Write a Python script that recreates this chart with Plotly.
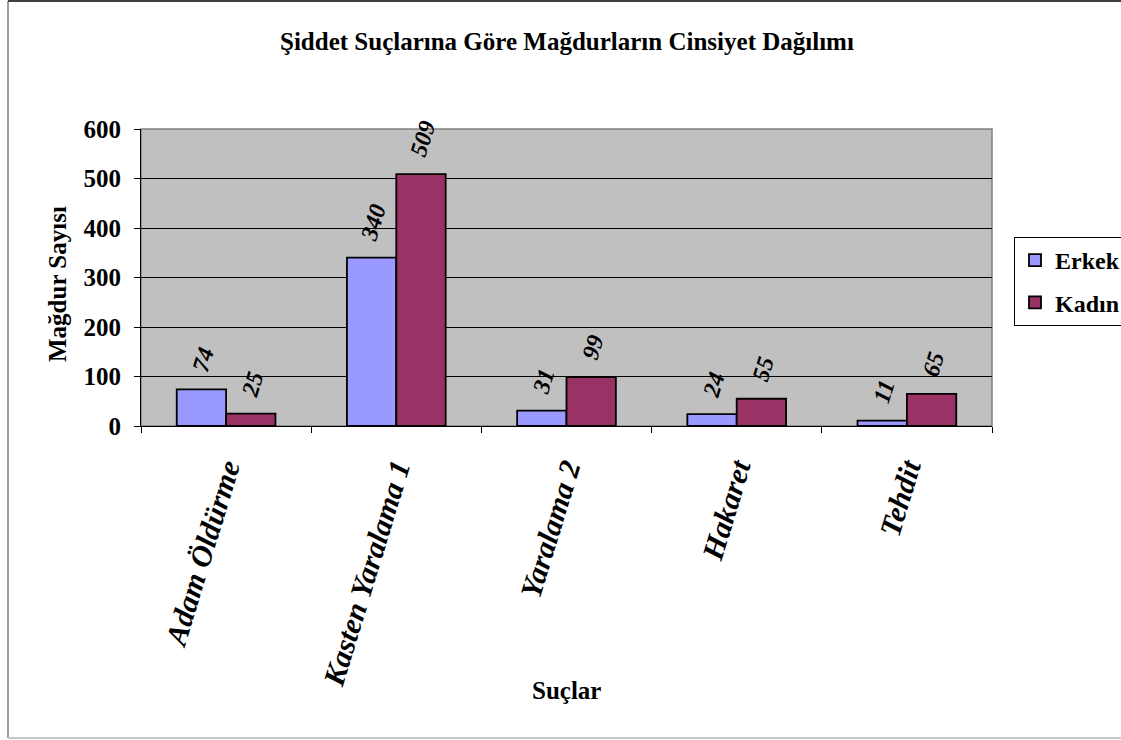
import plotly.graph_objects as go

categories = ["Adam Öldürme", "Kasten Yaralama 1", "Yaralama 2", "Hakaret", "Tehdit"]
erkek = [74, 340, 31, 24, 11]
kadin = [25, 509, 99, 55, 65]

W, H = 1121, 740
L, R, T, B = 141, 129, 129, 314
pw, ph = W - L - R, H - T - B

def px_x(x):
    return (x - L) / pw

def px_y(y):
    return (H - B - y) / ph

FONT = "Liberation Serif"
LABEL_ANGLE = -73
PAD = "\u00a0\u00a0"  # lifts the rotated value labels a little off the bar tops

fig = go.Figure()
for name, vals, color in [("Erkek", erkek, "#9999FF"), ("Kadın", kadin, "#993366")]:
    fig.add_trace(go.Bar(
        name=name, x=categories, y=vals, legendgroup=name,
        marker=dict(color=color, line=dict(color="black", width=1.8)),
        text=[PAD + str(v) for v in vals], textposition="outside", textangle=LABEL_ANGLE,
        textfont=dict(family=FONT, size=24, color="black", style="italic", weight="bold"),
        cliponaxis=False,
    ))

shapes = [
    # plot area frame
    dict(type="rect", xref="paper", yref="paper", x0=0, x1=1, y0=0, y1=1,
         line=dict(color="#808080", width=1.5), layer="below"),
    # chart border
    dict(type="line", xref="paper", yref="paper", x0=px_x(8), x1=px_x(8),
         y0=px_y(1), y1=px_y(738), line=dict(color="#404040", width=1)),
    dict(type="line", xref="paper", yref="paper", x0=px_x(8), x1=px_x(1125),
         y0=px_y(1), y1=px_y(1), line=dict(color="#404040", width=2)),
    dict(type="line", xref="paper", yref="paper", x0=px_x(8), x1=px_x(1125),
         y0=px_y(738), y1=px_y(738), line=dict(color="#C8C8C8", width=2)),
]

annotations = [
    dict(text="<b>Şiddet Suçlarına Göre Mağdurların Cinsiyet Dağılımı</b>",
         xref="paper", yref="paper", x=px_x(567), y=px_y(42),
         xanchor="center", yanchor="middle",
         showarrow=False, font=dict(family=FONT, size=25, color="black")),
    dict(text="<b>Mağdur Sayısı</b>", xref="paper", yref="paper",
         x=px_x(57), y=px_y(284), xanchor="center", yanchor="middle",
         textangle=-90, showarrow=False,
         font=dict(family=FONT, size=25, color="black")),
    dict(text="<b>Suçlar</b>", xref="paper", yref="paper",
         x=px_x(566), y=px_y(690), xanchor="center", yanchor="middle",
         showarrow=False, font=dict(family=FONT, size=25, color="black")),
]

fig.update_layout(
    width=W, height=H,
    margin=dict(l=L, r=R, t=T, b=B, autoexpand=False),
    paper_bgcolor="white", plot_bgcolor="#C0C0C0",
    barmode="group", bargap=0.42, bargroupgap=0,
    showlegend=True,
    legend=dict(
        x=px_x(1014), y=px_y(237), xanchor="left", yanchor="top",
        bgcolor="white", bordercolor="black", borderwidth=1,
        font=dict(family=FONT, size=24, color="black", weight="bold"),
        itemwidth=30, tracegroupgap=8,
    ),
    shapes=shapes, annotations=annotations,
)

fig.update_xaxes(
    showline=True, linecolor="black", linewidth=1,
    ticks="outside", tickson="boundaries", ticklen=6, tickcolor="black",
    tickangle=LABEL_ANGLE,
    tickfont=dict(family=FONT, size=30, color="black", style="italic", weight="bold"),
    ticklabelstandoff=12,
    showgrid=False,
)
fig.update_yaxes(
    range=[0, 600], dtick=100,
    showline=True, linecolor="black", linewidth=1,
    ticks="outside", ticklen=6, tickcolor="black",
    tickfont=dict(family=FONT, size=25, color="black", weight="bold"),
    showgrid=True, gridcolor="black", gridwidth=1,
    ticklabelstandoff=8, zeroline=False,
)

fig.write_html("out.html")
